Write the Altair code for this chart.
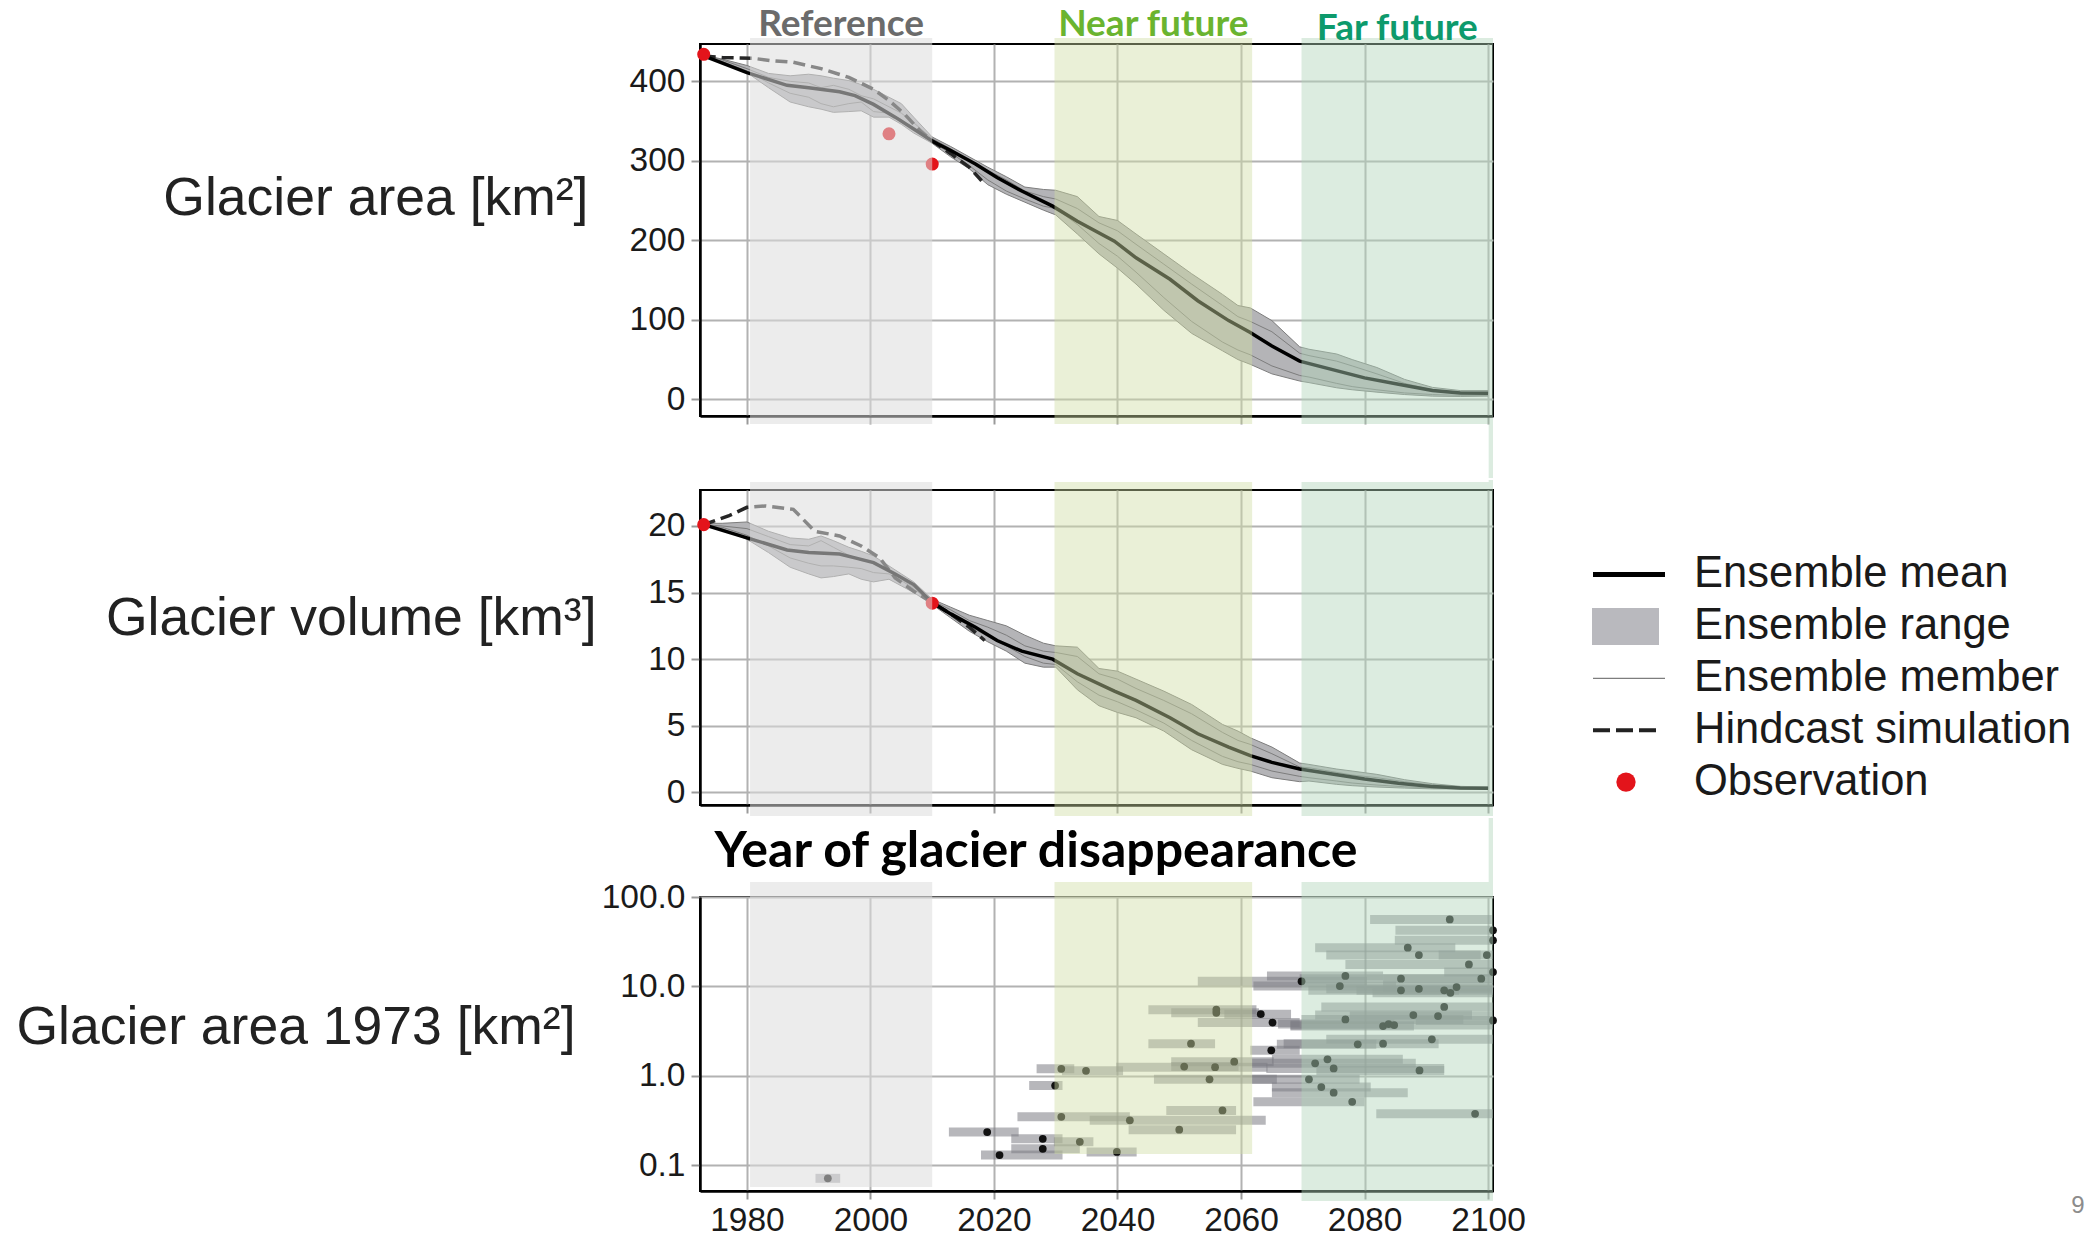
import altair as alt
import pandas as pd

# ---------------- data ----------------
mean_years = [1973, 1980, 1986.5, 1990, 1995, 1997.5, 2000.5, 2004, 2007, 2010,
              2013, 2017, 2020.5, 2024.5, 2029.5, 2033.5, 2039.5, 2043, 2048.5, 2053,
              2058, 2061.5, 2065, 2069.5, 2074.5, 2080, 2085.5, 2091, 2095.5, 2100]
area_mean = [432, 411, 395, 392, 387, 382, 371, 355, 340, 325,
             313, 296, 279, 262, 243, 224, 199, 178, 151, 124,
             99, 84, 67, 48, 38, 27, 19, 11, 8, 7.5]
volume_mean = [20.1, 19.1, 18.2, 18.0, 17.9, 17.6, 17.25, 16.4, 15.6, 14.25,
               13.4, 12.4, 11.4, 10.6, 10.0, 8.9, 7.6, 6.9, 5.6, 4.4,
               3.4, 2.75, 2.25, 1.75, 1.4, 1.0, 0.68, 0.43, 0.33, 0.3]

range_years = [1973, 1976, 1980, 1983.5, 1987, 1990, 1992, 1994, 1996.5, 1998.5,
               2000.5, 2003, 2005, 2007, 2010, 2013, 2016, 2019, 2022, 2025,
               2028, 2030, 2033.5, 2037, 2040, 2043, 2047.5, 2052, 2057, 2059.5,
               2061.5, 2065, 2069.5, 2071, 2075.5, 2078, 2082, 2086.5, 2091, 2095.5, 2100]
area_upper = [433, 428, 420, 410, 407, 409, 407, 404, 401, 396,
              390, 380, 372, 355, 330, 318, 305, 292, 280, 267,
              264, 263, 255, 230, 225, 208, 183, 158, 132, 118,
              115, 99, 66, 63, 57, 50, 40, 25, 15, 11, 11]
area_lower = [431, 424, 411, 392, 374, 368, 365, 361, 362, 363,
              355, 355, 346, 335, 322, 305, 290, 270, 258, 248,
              238, 232, 208, 183, 165, 145, 112, 83, 61, 50,
              44, 32, 23, 21, 14.5, 12, 9, 6, 4, 3.5, 4]
area_member_a = [433, 427, 416, 405, 400, 398, 392, 395, 390, 382,
                 378, 368, 360, 348, 328, 315, 300, 288, 276, 262,
                 255, 252, 240, 222, 212, 195, 170, 145, 118, 104,
                 98, 85, 58, 55, 48, 42, 32, 20, 12, 9, 8]
area_member_b = [432, 425, 413, 398, 385, 380, 372, 368, 372, 374,
                 362, 360, 352, 340, 323, 310, 294, 276, 262, 252,
                 243, 240, 220, 196, 180, 160, 128, 98, 72, 62,
                 56, 42, 30, 28, 20, 16, 12, 8, 6, 5, 5]
volume_upper = [20.2, 20.2, 20.3, 19.6, 19.1, 19.0, 19.25, 18.9, 18.4, 18.1,
                17.75, 17.0, 16.4, 15.8, 14.5, 13.9, 13.3, 12.9, 12.5, 11.8,
                11.2, 11.0, 10.9, 9.3, 9.1, 8.5, 7.6, 6.6, 5.1, 4.6,
                4.1, 3.4, 2.2, 2.1, 1.75, 1.6, 1.35, 0.95, 0.65, 0.45, 0.4]
volume_lower = [20.0, 19.8, 19.0, 18.0, 16.9, 16.4, 16.1, 16.2, 16.4, 16.0,
                15.8, 16.0, 15.5, 15.0, 14.1, 13.1, 12.1, 11.3, 10.6, 9.7,
                9.4, 9.4, 7.7, 6.5, 6.0, 5.6, 4.6, 3.2, 2.1, 1.8,
                1.6, 1.1, 0.8, 0.85, 0.6, 0.5, 0.4, 0.32, 0.26, 0.25, 0.25]
volume_member_a = [20.1, 20.0, 19.8, 19.2, 18.6, 18.5, 18.9, 18.4, 17.8, 17.4,
                   17.3, 16.6, 16.0, 15.4, 14.4, 13.7, 12.9, 12.4, 11.8, 11.0,
                   10.6, 10.5, 10.2, 8.9, 8.5, 7.8, 6.9, 5.9, 4.5, 3.9,
                   3.6, 2.9, 1.9, 1.85, 1.5, 1.3, 1.1, 0.8, 0.55, 0.4, 0.35]
volume_member_b = [20.0, 19.9, 19.3, 18.5, 17.6, 17.2, 17.0, 17.0, 16.9, 16.8,
                   16.5, 16.4, 15.9, 15.3, 14.2, 13.3, 12.5, 11.7, 11.0, 10.2,
                   9.7, 9.6, 8.3, 7.3, 6.8, 6.2, 5.2, 3.9, 2.7, 2.3,
                   2.1, 1.6, 1.2, 1.1, 0.85, 0.7, 0.55, 0.42, 0.32, 0.28, 0.27]

hind_area_years = [1973, 1976, 1981, 1984, 1987.5, 1992, 1996.5, 2000.5, 2003, 2005.5,
                   2008, 2010, 2013, 2016, 2018]
hind_area = [432, 430, 429, 426, 424, 416, 405, 390, 376, 359, 338, 325, 309, 292, 275]
hind_volume_years = [1973, 1977, 1980, 1983, 1987.5, 1991, 1995, 1998.5, 2001.5, 2004,
                     2007, 2010, 2013, 2016, 2018.5]
hind_volume = [20.1, 20.75, 21.4, 21.5, 21.25, 19.6, 19.25, 18.5, 17.6, 16.1,
               15.1, 14.25, 13.4, 12.4, 11.4]

obs_area_years = [1973, 2003, 2010]
obs_area = [434, 334, 296]
obs_volume_years = [1973, 2010]
obs_volume = [20.1, 14.2]

# year of glacier disappearance: range start / end, median year, area in 1973
gl_start = [1991.1, 2012.7, 2017.9, 2022.8, 2022.8, 2029.7, 2035.0, 2025.7, 2026.9, 2031.0,
            2023.8, 2035.5, 2047.9, 2041.8, 2045.0, 2045.0, 2048.7, 2048.7, 2039.8, 2048.7,
            2045.9, 2061.5, 2057.3, 2053.0, 2053.0, 2080.9, 2085.0, 2084.9, 2072.0, 2073.8,
            2092.0, 2076.9, 2092.9, 2083.0, 2064.2, 2069.5, 2062.0, 2070.9, 2073.8, 2078.7,
            2081.3, 2083.0, 2073.0, 2077.6, 2072.0, 2088.3, 2069.8, 2068.0, 2066.0, 2068.0,
            2073.8, 2066.9, 2065.8, 2065.0, 2061.8, 2064.1, 2072.2, 2061.8, 2065.0, 2065.0,
            2062.0, 2081.9]
gl_end = [1995.1, 2024.0, 2031.1, 2031.1, 2033.9, 2036.1, 2043.1, 2031.1, 2033.0, 2040.9,
          2042.0, 2064.0, 2059.2, 2059.2, 2055.8, 2062.5, 2062.9, 2059.6, 2064.3, 2065.3,
          2065.8, 2069.5, 2068.1, 2069.5, 2080.4, 2100.6, 2100.8, 2100.8, 2094.7, 2098.8,
          2100.8, 2100.8, 2100.8, 2100.8, 2083.0, 2100.8, 2085.1, 2095.3, 2100.8, 2100.8,
          2100.8, 2100.8, 2100.8, 2100.8, 2097.4, 2100.8, 2096.0, 2088.0, 2084.8, 2100.8,
          2100.8, 2092.0, 2081.9, 2086.2, 2088.3, 2092.9, 2092.9, 2079.2, 2081.0, 2087.0,
          2080.0, 2100.8]
gl_median = [1993.1, 2018.9, 2020.9, 2027.9, 2027.9, 2033.9, 2039.9, 2029.9, 2030.9, 2034.9,
             2030.9, 2042.0, 2057.0, 2050.0, 2051.9, 2056.0, 2056.0, 2050.8, 2055.8, 2058.9,
             2054.9, 2064.9, 2063.2, 2065.1, 2069.8, 2093.8, 2100.8, 2100.8, 2087.0, 2088.8,
             2099.8, 2096.9, 2100.8, 2098.9, 2076.9, 2085.9, 2076.0, 2085.9, 2088.8, 2092.9,
             2093.9, 2094.9, 2092.9, 2091.9, 2087.9, 2100.8, 2076.9, 2083.0, 2083.9, 2084.8,
             2090.9, 2083.0, 2078.9, 2074.0, 2072.0, 2075.0, 2088.9, 2071.0, 2073.0, 2075.0,
             2078.0, 2097.9]
gl_area = [0.0715, 0.235, 0.130, 0.198, 0.153, 0.183, 0.141, 0.78, 1.20, 1.14,
           0.349, 0.318, 0.41, 0.25, 2.29, 5.5, 5.07, 1.27, 1.25, 1.44,
           0.914, 1.93, 4.9, 3.94, 11.4, 56.2, 42.4, 32.8, 27.1, 22.4,
           22.4, 17.6, 14.5, 12.2, 13.1, 12.2, 10.1, 9.04, 9.4, 9.04,
           8.49, 9.84, 5.89, 4.67, 4.79, 4.17, 4.28, 3.6, 3.8, 3.7,
           2.56, 2.29, 2.25, 1.53, 1.38, 1.21, 1.15, 0.914, 0.75, 0.648,
           0.513, 0.377]

period_names = ["Reference", "Near future", "Far future"]
period_start = [1980.5, 2029.8, 2069.8]
period_end = [2010.0, 2061.8, 2100.8]

year_ticks = [1980, 2000, 2020, 2040, 2060, 2080, 2100]
area_ticks = [0, 100, 200, 300, 400]
volume_ticks = [0, 5, 10, 15, 20]
size_ticks = [0.1, 1, 10, 100]

legend_labels = ["Ensemble mean", "Ensemble range", "Ensemble member",
                 "Hindcast simulation", "Observation"]
panel_titles = ["Glacier area [km²]", "Glacier volume [km³]", "Glacier area 1973 [km²]"]
section_title = ["Year of glacier disappearance"]
page_number = ["9"]

# ---------------- styling ----------------
W = 793
H_TOP, H_MID, H_BOT = 372, 315, 294
OVER_COLORS = ["#dcdcdc", "#cfdca5", "#b2d5bb"]
OVER_ALPHA = [0.54, 0.44, 0.45]
LABEL_COLORS = ["#6b6b6b", "#6ab42f", "#0d9a6c"]
LABEL_Y = [-19.5, -19.5, -15.5]
BAND_FILL = "#b4b4b7"
MEMBER_COLOR = "#7d7d7d"
RED = "#e3141b"

XS = alt.Scale(domain=[1972.4, 2100.8], nice=False, zero=False)
XAX_NOLAB = alt.Axis(values=year_ticks, labels=False, title=None, grid=True)
XAX_LAB = alt.Axis(values=year_ticks, format="d", title=None, grid=True,
                   labelFlush=False, labelPadding=5)

periods = pd.DataFrame({"name": period_names, "start": period_start, "end": period_end})
one = pd.DataFrame({"k": [0]})


def overlays(xax, y_top, y_bottoms):
    out = []
    for i, name in enumerate(period_names):
        out.append(
            alt.Chart(periods).transform_filter(alt.datum.name == name)
            .mark_rect(color=OVER_COLORS[i], opacity=OVER_ALPHA[i])
            .encode(x=alt.X("start:Q", scale=XS, axis=xax), x2="end:Q",
                    y=alt.value(y_top), y2=alt.value(y_bottoms[i]))
        )
    return out


def strip(xax, y1, y2):
    # thin remnant of the far-future shading visible between the panels
    return (alt.Chart(periods).transform_filter(alt.datum.name == period_names[2])
            .transform_calculate(s="datum.end - 0.7")
            .mark_rect(color=OVER_COLORS[2], opacity=OVER_ALPHA[2])
            .encode(x=alt.X("s:Q", scale=XS, axis=xax), x2="end:Q",
                    y=alt.value(y1), y2=alt.value(y2)))


def spacer(y1, y2):
    return alt.Chart(one).mark_rule(opacity=0, strokeWidth=1, color="white").encode(
        x=alt.value(5), y=alt.value(y1), y2=alt.value(y2))


def series_layers(years_m, mean_v, years_r, up, lo, ma, mb, hy, hv, oy, ov, yscale, yaxis):
    X = lambda f: alt.X(f"{f}:Q", scale=XS, axis=XAX_NOLAB)
    Y = lambda f: alt.Y(f"{f}:Q", scale=yscale, axis=yaxis)
    rng = pd.DataFrame({"year": years_r, "upper": up, "lower": lo, "m1": ma, "m2": mb})
    mean_df = pd.DataFrame({"year": years_m, "value": mean_v})
    hind_df = pd.DataFrame({"year": hy, "value": hv})
    obs_df = pd.DataFrame({"year": oy, "value": ov})
    layers = [alt.Chart(rng).mark_area(color=BAND_FILL, opacity=1).encode(
        x=X("year"), y=Y("upper"), y2="lower:Q")]
    for c in ["upper", "lower", "m1", "m2"]:
        layers.append(alt.Chart(rng).mark_line(color=MEMBER_COLOR, strokeWidth=1).encode(
            x=X("year"), y=Y(c)))
    layers.append(alt.Chart(hind_df).mark_line(color="#262626", strokeWidth=3.5,
                                               strokeDash=[12, 6]).encode(x=X("year"), y=Y("value")))
    layers.append(alt.Chart(mean_df).mark_line(color="black", strokeWidth=3.5).encode(
        x=X("year"), y=Y("value")))
    layers.append(alt.Chart(obs_df).mark_circle(color=RED, size=170, opacity=1).encode(
        x=X("year"), y=Y("value")))
    return layers


def yaxis(values, fmt, title, tx, ty):
    return alt.Axis(values=values, format=fmt, title=title, titleAngle=0, titleAlign="right",
                    titleBaseline="middle", titleX=tx, titleY=ty, titleFontSize=53.5,
                    titleFont="Liberation Sans", titleFontWeight="normal", titleColor="#222222",
                    grid=True, tickSize=9, labelPadding=6)


# ---------------- top panel: glacier area ----------------
YS_TOP = alt.Scale(domain=[-21, 447], nice=False, zero=False)
YAX_TOP = yaxis(area_ticks, "d", panel_titles[0], -112, 154)
top_layers = series_layers(mean_years, area_mean, range_years, area_upper, area_lower,
                           area_member_a, area_member_b, hind_area_years, hind_area,
                           obs_area_years, obs_area, YS_TOP, YAX_TOP)
top_layers += overlays(XAX_NOLAB, -6, [H_TOP + 8] * 3)
top_layers.append(strip(XAX_NOLAB, H_TOP + 8, 434))
for i, name in enumerate(period_names):
    top_layers.append(
        alt.Chart(periods).transform_filter(alt.datum.name == name)
        .transform_calculate(mid="(datum.start + datum.end) / 2")
        .mark_text(font="Lato", fontWeight="bold", fontSize=37, color=LABEL_COLORS[i],
                   align="center", baseline="middle")
        .encode(x=alt.X("mid:Q", scale=XS, axis=XAX_NOLAB), y=alt.value(LABEL_Y[i]),
                text="name:N")
    )
top_layers += [spacer(-40, 0), spacer(H_TOP, 434)]
top = alt.layer(*top_layers).properties(width=W, height=H_TOP)

# ---------------- middle panel: glacier volume + legend ----------------
YS_MID = alt.Scale(domain=[-0.95, 22.7], nice=False, zero=False)
YAX_MID = yaxis(volume_ticks, "d", panel_titles[1], -104, 128)
mid_layers = series_layers(mean_years, volume_mean, range_years, volume_upper, volume_lower,
                           volume_member_a, volume_member_b, hind_volume_years, hind_volume,
                           obs_volume_years, obs_volume, YS_MID, YAX_MID)
mid_layers += overlays(XAX_NOLAB, -8, [H_MID + 11] * 3)
mid_layers += [strip(XAX_NOLAB, -10, -8), spacer(-10, 0), spacer(H_MID, 326)]
mid_data = alt.layer(*mid_layers)

leg_df = pd.DataFrame({"label": legend_labels, "row": list(range(len(legend_labels)))})
LEGY = alt.Scale(domain=[-1.628, 4.441], reverse=True, nice=False, zero=False)
LY = alt.Y("row:Q", scale=LEGY, axis=None)
leg_base = alt.Chart(leg_df)
legend_layers = [
    leg_base.transform_filter("datum.row == 0").mark_rule(color="black", strokeWidth=5)
    .encode(x=alt.value(893), x2=alt.value(965), y=LY),
    leg_base.transform_filter("datum.row == 1").mark_rule(color="#b9b9be", strokeWidth=37)
    .encode(x=alt.value(892), x2=alt.value(959), y=LY),
    leg_base.transform_filter("datum.row == 2").mark_rule(color=MEMBER_COLOR, strokeWidth=1.2)
    .encode(x=alt.value(893), x2=alt.value(965), y=LY),
    leg_base.transform_filter("datum.row == 3").mark_rule(color="#222222", strokeWidth=4,
                                                          strokeDash=[17, 6])
    .encode(x=alt.value(893), x2=alt.value(957), y=LY),
    leg_base.transform_filter("datum.row == 4").mark_circle(color=RED, size=373, opacity=1)
    .encode(x=alt.value(926), y=LY),
    leg_base.mark_text(align="left", baseline="middle", fontSize=43.5, font="Liberation Sans",
                       color="#1a1a1a")
    .encode(x=alt.value(994), y=LY, text="label:N"),
]
mid = alt.layer(mid_data, alt.layer(*legend_layers)).resolve_scale(y="independent") \
    .properties(width=W, height=H_MID)

# ---------------- bottom panel: year of disappearance ----------------
YS_BOT = alt.Scale(type="log", domain=[0.0516, 100], nice=False)
YAX_BOT = yaxis(size_ticks, ".1f", panel_titles[2], -125, 130)
gl_df = pd.DataFrame({"start": gl_start, "end": gl_end, "median": gl_median, "area": gl_area})
bot_layers = [
    alt.Chart(gl_df).mark_rule(color="#7c7c84", strokeWidth=9, opacity=0.55).encode(
        x=alt.X("start:Q", scale=XS, axis=XAX_LAB), x2="end:Q",
        y=alt.Y("area:Q", scale=YS_BOT, axis=YAX_BOT)),
    alt.Chart(gl_df).mark_circle(color="#111111", size=60, opacity=1).encode(
        x=alt.X("median:Q", scale=XS, axis=XAX_LAB),
        y=alt.Y("area:Q", scale=YS_BOT, axis=YAX_BOT)),
]
bot_layers += overlays(XAX_LAB, -15, [290, 257, 304])
bot_layers.append(strip(XAX_LAB, -79, -15))
bot_layers.append(
    alt.Chart(pd.DataFrame({"t": section_title})).mark_text(
        font="Lato", fontWeight="bold", fontSize=50, color="black", align="center",
        baseline="middle").encode(x=alt.value(336), y=alt.value(-45), text="t:N"))
bot_layers.append(
    alt.Chart(pd.DataFrame({"t": page_number})).mark_text(
        font="Liberation Sans", fontSize=24, color="#8c8c8c", align="center",
        baseline="middle").encode(x=alt.value(1378), y=alt.value(309), text="t:N"))
bot_layers.append(spacer(-79, 0))
bottom = alt.layer(*bot_layers).properties(width=W, height=H_BOT)

chart = alt.vconcat(top, mid, bottom, spacing=0).properties(
    padding={"left": 14, "top": 3, "right": 0, "bottom": 0}
).configure(font="Liberation Sans", background="white").configure_view(
    stroke="black", strokeWidth=2
).configure_axis(
    domainColor="black", domainWidth=2.5, gridColor="#b2b2b2", gridWidth=2,
    tickColor="#9a9a9a", tickWidth=2, tickSize=8, labelFont="Liberation Sans",
    labelFontSize=33.5, labelColor="#1a1a1a"
)

chart.save("out.html", embed_options={"renderer": "svg", "actions": False})
